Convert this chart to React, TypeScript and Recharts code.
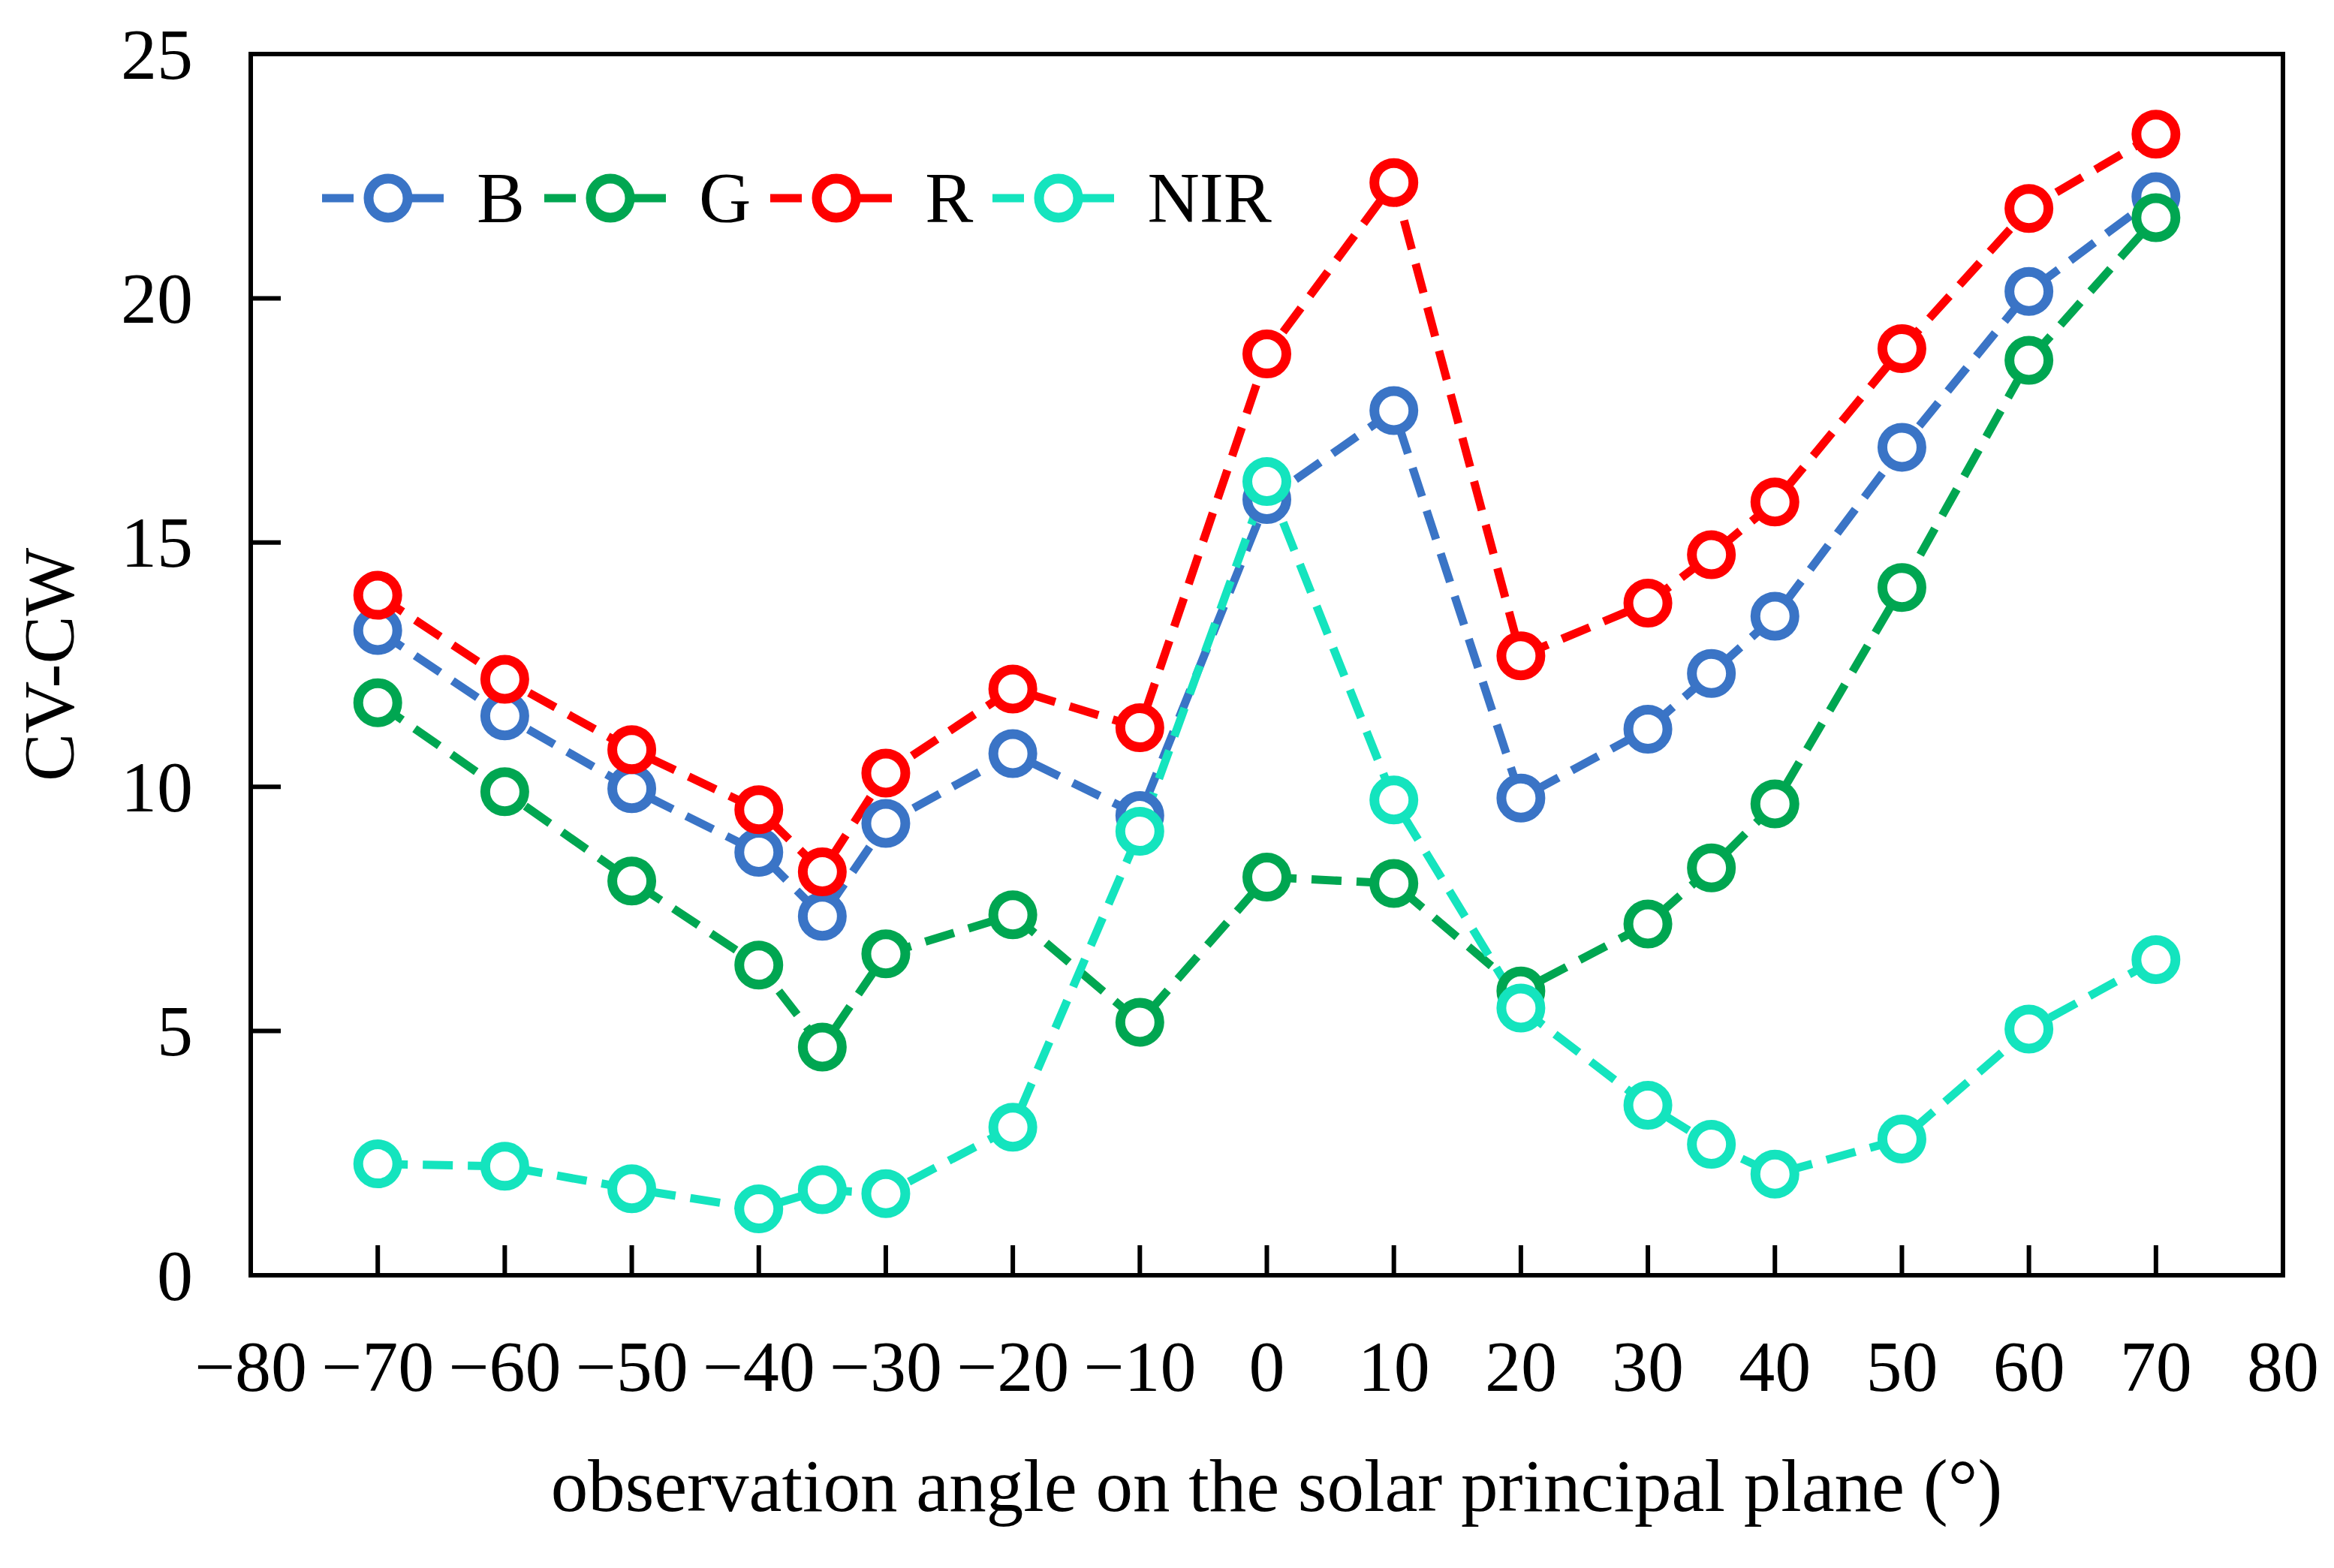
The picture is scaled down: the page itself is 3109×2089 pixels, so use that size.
import { LineChart, Line, XAxis, YAxis, Legend, ReferenceLine } from 'recharts'

const FONT = '"Liberation Serif", "Times New Roman", serif'

// observation angles (deg) and CV-CW values per band
const angles = [-70, -60, -50, -40, -35, -30, -20, -10, 0, 10, 20, 30, 35, 40, 50, 60, 70]
const bValues = [13.2, 11.45, 9.96, 8.66, 7.35, 9.25, 10.68, 9.41, 15.88, 17.7, 9.77, 11.18, 12.32, 13.49, 16.95, 20.14, 22.08]
const gValues = [11.72, 9.9, 8.07, 6.35, 4.67, 6.58, 7.38, 5.18, 8.15, 8.02, 5.82, 7.19, 8.34, 9.65, 14.08, 18.73, 21.65]
const rValues = [13.92, 12.2, 10.76, 9.53, 8.26, 10.28, 12.0, 11.21, 18.86, 22.37, 12.68, 13.76, 14.75, 15.83, 18.97, 21.84, 23.36]
const nirValues = [2.28, 2.23, 1.77, 1.36, 1.75, 1.67, 3.03, 9.09, 16.25, 9.73, 5.47, 3.48, 2.68, 2.07, 2.79, 5.04, 6.46]

const xTicks = [-80, -70, -60, -50, -40, -30, -20, -10, 0, 10, 20, 30, 40, 50, 60, 70, 80]
const yTicks = [0, 5, 10, 15, 20, 25]

const series = [
  { key: 'B', color: '#3A74C6' },
  { key: 'G', color: '#00A651' },
  { key: 'R', color: '#FF0000' },
  { key: 'NIR', color: '#14E4BE' },
]

const data = angles.map((angle, i) => ({
  angle,
  B: bValues[i],
  G: gValues[i],
  R: rValues[i],
  NIR: nirValues[i],
}))

const X_TICK_MARGIN = 154
const Y_TICK_MARGIN = 77
const TICK_LEN = 40
const AXIS = { stroke: '#000', strokeWidth: 6, strokeLinecap: 'square' as const }

function XTick(props: any) {
  const { x, y, payload } = props
  const v = payload.value
  const axisY = y - X_TICK_MARGIN
  const label = v < 0 ? `\u2212${Math.abs(v)}` : `${v}`
  return (
    <g>
      {v > -80 && v < 80 && (
        <line x1={x} x2={x} y1={axisY} y2={axisY - TICK_LEN} stroke="#000" strokeWidth={6} />
      )}
      <text x={x} y={y} textAnchor="middle" fontFamily={FONT} fontSize={96} fill="#000">
        {label}
      </text>
    </g>
  )
}

function YTick(props: any) {
  const { x, y, payload } = props
  const v = payload.value
  const axisX = x + Y_TICK_MARGIN
  return (
    <g>
      {v > 0 && v < 25 && (
        <line x1={axisX} x2={axisX + TICK_LEN} y1={y} y2={y} stroke="#000" strokeWidth={6} />
      )}
      <text x={x} y={y} dy="0.34em" textAnchor="end" fontFamily={FONT} fontSize={96} fill="#000">
        {v}
      </text>
    </g>
  )
}

function renderLegend() {
  return (
    <div style={{ display: 'flex', alignItems: 'center', fontFamily: FONT, fontSize: 96, lineHeight: 1, color: '#000' }}>
      {series.map((s) => (
        <div key={s.key} style={{ display: 'flex', alignItems: 'center', marginRight: 26 }}>
          <svg width={162} height={80} style={{ display: 'block' }}>
            <line x1={0} x2={162} y1={40} y2={40} stroke={s.color} strokeWidth={11} strokeDasharray="42 18" />
            <circle cx={88} cy={40} r={26} fill="#fff" stroke={s.color} strokeWidth={13} />
          </svg>
          <span style={{ marginLeft: 44 }}>{s.key}</span>
        </div>
      ))}
    </div>
  )
}

export default function App() {
  return (
    <div style={{ position: 'absolute', left: 0, top: 0, width: 3109, height: 2089, background: '#fff' }}>
      <LineChart width={3109} height={2089} data={data} margin={{ top: 72, right: 68, left: 0, bottom: 0 }}>
        <XAxis
          dataKey="angle"
          type="number"
          domain={[-80, 80]}
          ticks={xTicks}
          interval={0}
          height={390}
          tickSize={0}
          tickMargin={X_TICK_MARGIN}
          tick={<XTick />}
          axisLine={AXIS}
          label={{
            content: (p: any) => {
              const vb = p.viewBox
              return (
                <text
                  x={vb.x + vb.width / 2 + 13}
                  y={vb.y + 314}
                  textAnchor="middle"
                  fontFamily={FONT}
                  fontSize={99}
                  fill="#000"
                >
                  observation angle on the solar principal plane (°)
                </text>
              )
            },
          }}
        />
        <YAxis
          type="number"
          domain={[0, 25]}
          ticks={yTicks}
          interval={0}
          width={334}
          tickSize={0}
          tickMargin={Y_TICK_MARGIN}
          tick={<YTick />}
          axisLine={AXIS}
          label={{
            content: (p: any) => {
              const vb = p.viewBox
              const cy = vb.y + vb.height / 2
              return (
                <text
                  x={98}
                  y={cy}
                  transform={`rotate(-90 98 ${cy})`}
                  textAnchor="middle"
                  fontFamily={FONT}
                  fontSize={96}
                  fill="#000"
                >
                  CV-CW
                </text>
              )
            },
          }}
        />
        <ReferenceLine y={25} stroke="#000" strokeWidth={6} strokeLinecap="square" />
        <ReferenceLine x={80} stroke="#000" strokeWidth={6} strokeLinecap="square" />
        <Legend
          layout="horizontal"
          verticalAlign="middle"
          align="center"
          content={renderLegend}
          wrapperStyle={{ left: 429, top: 216, width: 'auto' }}
        />
        {series.map((s) => (
          <Line
            key={s.key}
            type="linear"
            dataKey={s.key}
            name={s.key}
            stroke={s.color}
            strokeWidth={11}
            strokeDasharray="40 20"
            dot={{ r: 26, fill: '#fff', stroke: s.color, strokeWidth: 13, strokeDasharray: '' }}
            activeDot={false}
            isAnimationActive={false}
          />
        ))}
      </LineChart>
    </div>
  )
}
